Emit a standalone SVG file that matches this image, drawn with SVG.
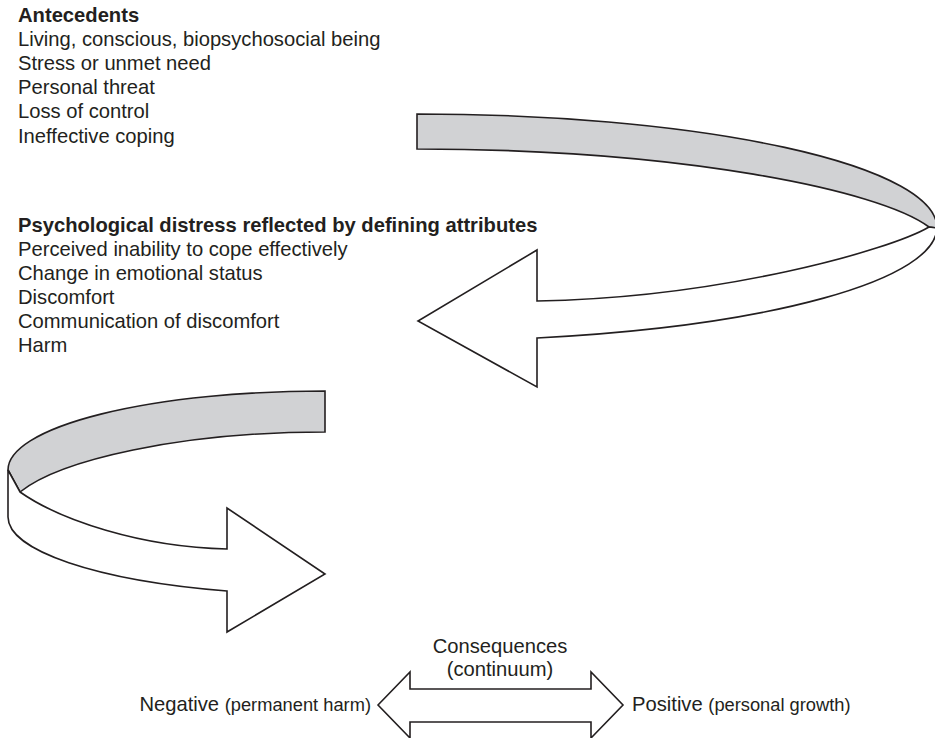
<svg xmlns="http://www.w3.org/2000/svg" width="935" height="738" viewBox="0 0 935 738">
<style>
text{font-family:"Liberation Sans",Arial,sans-serif;fill:#231f20;font-size:20.2px}
.b{font-weight:bold}
.s{font-size:18.3px}
.band{stroke:#231f20;stroke-width:1.6;stroke-linejoin:miter}
.gray{fill:#d1d2d4}
.white{fill:#ffffff}
</style>
<rect width="935" height="738" fill="#ffffff"/>
<g id="antecedents">
<text x="18" y="22" class="b">Antecedents</text>
<text x="18" y="46">Living, conscious, biopsychosocial being</text>
<text x="18" y="70">Stress or unmet need</text>
<text x="18" y="94">Personal threat</text>
<text x="18" y="118">Loss of control</text>
<text x="18" y="143">Ineffective coping</text>
</g>
<g id="attributes">
<text x="18" y="232" class="b">Psychological distress reflected by defining attributes</text>
<text x="18" y="256">Perceived inability to cope effectively</text>
<text x="18" y="280">Change in emotional status</text>
<text x="18" y="304">Discomfort</text>
<text x="18" y="328">Communication of discomfort</text>
<text x="18" y="352">Harm</text>
</g>
<g id="consequences">
<text x="500" y="653" text-anchor="middle">Consequences</text>
<text x="500" y="676" text-anchor="middle">(continuum)</text>
<text x="371" y="711" text-anchor="end">Negative <tspan class="s">(permanent harm)</tspan></text>
<text x="632" y="711">Positive <tspan class="s">(personal growth)</tspan></text>
</g>
<g id="connectors">
<g id="arrow-antecedents-to-attributes">
<path class="band gray" d="M417,114 A520,114 0 0 1 937,228 L929,227 C880,190 680,149 417,149 Z"/>
<path class="band white" d="M929,227 L937,228 A520,114 0 0 1 537,338 L537,387 L418,321 L537,250 L537,301 C720,298 890,250 929,227 Z"/>
</g>
<g id="arrow-attributes-to-consequences">
<path class="band gray" d="M325,391 A317,79 0 0 0 8,470 L20,492 C60,460 180,432 325,432 Z"/>
<path class="band white" d="M20,492 C60,520 140,547 227,549 L227,508 L325,574 L227,632 L227,591 A317,78 0 0 1 8,517 L8,470 Z"/>
</g>
<g id="arrow-continuum">
<path class="band white" d="M378,705 L410,672 L410,689 L591,689 L591,672 L623,705 L591,738 L591,722 L410,722 L410,738 Z"/>
</g>
</g>
</svg>
